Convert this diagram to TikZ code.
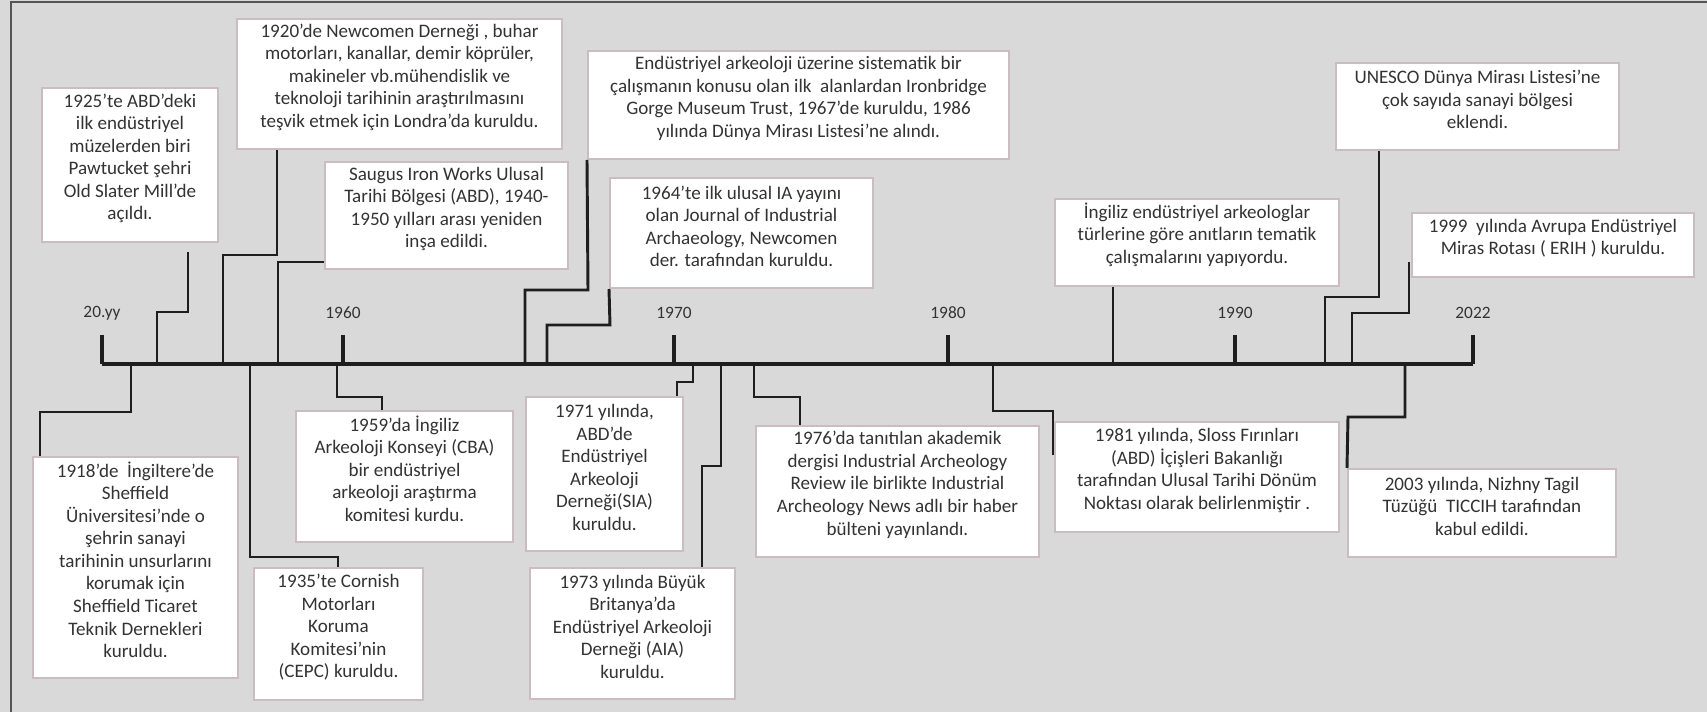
\documentclass[tikz,border=0pt]{standalone}
\usepackage{fontspec}
\setmainfont{Carlito}
\usetikzlibrary{fit}
\definecolor{bg}{HTML}{D9D9D9}
\definecolor{bx}{HTML}{CBBDBF}
\definecolor{tx}{HTML}{333333}
\definecolor{ln}{HTML}{1E1E1E}
\definecolor{fr}{HTML}{555555}
\begin{document}
\begin{tikzpicture}[x=0.75pt,y=-0.75pt,
  box/.style={draw=bx, line width=1.5pt, fill=white, inner sep=0pt, align=center, text=tx, font=\fontsize{14.3}{16.9}\selectfont},
  conn/.style={draw=ln, line width=2.2pt},
  axisline/.style={draw=ln, line width=2.4pt},
  yr/.style={text=tx, font=\fontsize{13}{16}\selectfont}]
\useasboundingbox (0,0) rectangle (1707,712);
\fill[bg] (0,0) rectangle (1707,712);
\draw[fr, line width=1.5pt] (11,712) -- (11,2) -- (1707,2);

% axis
\coordinate (ax0) at (102,364);
\coordinate (ax1) at (1473,364);
\draw[axisline] (ax0) -- (ax1);
% year ticks and labels
\foreach \nm/\xx/\lab in {y20/102/20.yy, y60/343/1960, y70/674/1970, y80/948/1980, y90/1235/1990, y22/1473/2022}{
  \node[yr] (\nm) at (\xx,313) {\lab};
  \draw[axisline] (\xx,335) -- (\xx,364);
}

% boxes above
\node[box, fit={(42,88) (218,242)}] (b1925) {1925’te ABD’deki\\ilk endüstriyel\\müzelerden biri\\Pawtucket şehri\\Old Slater Mill’de\\açıldı.\\[6pt]};
\node[box, fit={(237,19) (562,149)}] (b1920) {1920’de Newcomen Derneği , buhar\\motorları, kanallar, demir köprüler,\\makineler vb.mühendislik ve\\teknoloji tarihinin araştırılmasını\\teşvik etmek için Londra’da kuruldu.};
\node[box, fit={(325,162) (568,269)}] (bsaugus) {Saugus Iron Works Ulusal\\Tarihi Bölgesi (ABD), 1940-\\1950 yılları arası yeniden\\inşa edildi.};
\node[box, fit={(588,51) (1009,159)}] (biron) {Endüstriyel arkeoloji üzerine sistematik bir\\çalışmanın konusu olan ilk\ \ alanlardan Ironbridge\\Gorge Museum Trust, 1967’de kuruldu, 1986\\yılında Dünya Mirası Listesi’ne alındı.};
\node[box, fit={(610,178) (873,288)}] (b1964) {1964’te ilk ulusal IA yayını\\olan Journal of Industrial\\Archaeology, Newcomen\\der. tarafından kuruldu.};
\node[box, fit={(1055,199) (1339,286)}] (bing) {İngiliz endüstriyel arkeologlar\\türlerine göre anıtların tematik\\çalışmalarını yapıyordu.};
\node[box, fit={(1336,63) (1619,150)}] (bunesco) {UNESCO Dünya Mirası Listesi’ne\\çok sayıda sanayi bölgesi\\eklendi.};
\node[box, fit={(1412,213) (1694,277)}] (b1999) {1999\ \ yılında Avrupa Endüstriyel\\Miras Rotası ( ERIH ) kuruldu.};

% boxes below
\node[box, fit={(33,457) (238,678)}] (b1918) {1918’de\ \ İngiltere’de\\Sheffield\\Üniversitesi’nde o\\şehrin sanayi\\tarihinin unsurlarını\\korumak için\\Sheffield Ticaret\\Teknik Dernekleri\\kuruldu.};
\node[box, fit={(254,568) (423,700)}] (b1935) {1935’te Cornish\\Motorları\\Koruma\\Komitesi’nin\\(CEPC) kuruldu.};
\node[box, fit={(296,411) (513,542)}] (b1959) {1959’da İngiliz\\Arkeoloji Konseyi (CBA)\\bir endüstriyel\\arkeoloji araştırma\\komitesi kurdu.};
\node[box, fit={(526,397) (683,551)}] (b1971) {1971 yılında,\\ABD’de\\Endüstriyel\\Arkeoloji\\Derneği(SIA)\\kuruldu.};
\node[box, fit={(530,568) (735,699)}] (b1973) {1973 yılında Büyük\\Britanya’da\\Endüstriyel Arkeoloji\\Derneği (AIA)\\kuruldu.};
\node[box, fit={(756,426) (1039,557)}] (b1976) {1976’da tanıtılan akademik\\dergisi Industrial Archeology\\Review ile birlikte Industrial\\Archeology News adlı bir haber\\bülteni yayınlandı.};
\node[box, fit={(1055,422) (1339,532)}] (b1981) {1981 yılında, Sloss Fırınları\\(ABD) İçişleri Bakanlığı\\tarafından Ulusal Tarihi Dönüm\\Noktası olarak belirlenmiştir .};
\node[box, fit={(1348,469) (1616,557)}] (b2003) {2003 yılında, Nizhny Tagil\\Tüzüğü\ \ TICCIH tarafından\\kabul edildi.};

% axis attachment points
\foreach \nm/\xx in {a1925/157, a1920/223, asaugus/278, airon/525, a1964/547, aing/1113, aunesco/1325, a1999/1352,
  a1918/131, a1935/250, a1959/337, a1971/693, a1973/721, a1976/754, a1981/993, a2003/1405}{
  \coordinate (\nm) at (\xx,364);
}
\coordinate (e1925) at (188,252);
\coordinate (e1999) at (1409,262);
\coordinate (e1981) at (1053,455);

% connectors above
\draw[conn] (a1925) |- (188,312) -- (e1925);
\draw[conn] (a1920) |- (277,255) -- (277,0 |- b1920.south);
\draw[conn] (asaugus) |- (bsaugus.west |- 0,262);
\draw[conn] (airon) |- (588,290) -- (biron.south west);
\draw[conn] (a1964) |- (610,325) -- (b1964.south west);
\draw[conn] (aing) -- (1113,0 |- bing.south);
\draw[conn] (aunesco) |- (1379,297) -- (1379,0 |- bunesco.south);
\draw[conn] (a1999) |- (1409,313) -- (e1999);

% connectors below
\draw[conn] (a1918) |- (40,412) -- (40,0 |- b1918.north);
\draw[conn] (a1935) |- (338,557) -- (338,0 |- b1935.north);
\draw[conn] (a1959) |- (382,397) -- (382,0 |- b1959.north);
\draw[conn] (a1971) |- (677,382) -- (677,0 |- b1971.north);
\draw[conn] (a1973) |- (702,466) -- (702,0 |- b1973.north);
\draw[conn] (a1976) |- (800,397) -- (800,0 |- b1976.north);
\draw[conn] (a1981) |- (1053,411) -- (e1981);
\draw[conn] (a2003) |- (1348,417) -- (b2003.north west);
\end{tikzpicture}
\end{document}
